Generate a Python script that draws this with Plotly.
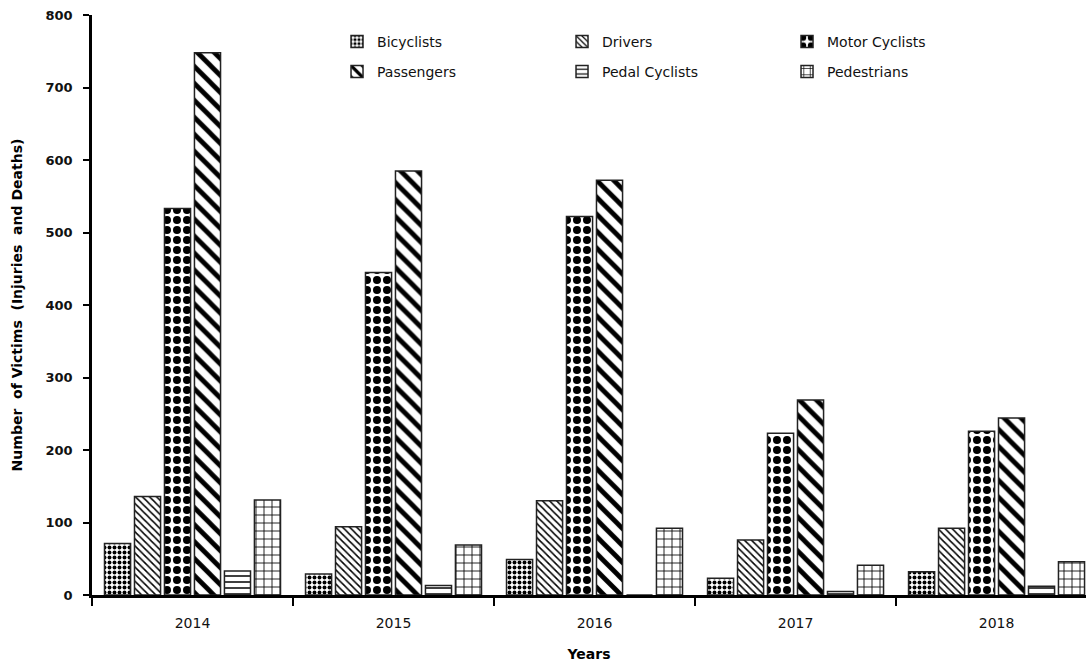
import plotly.graph_objects as go

years = ["2014", "2015", "2016", "2017", "2018"]
bicyclists = [71, 29, 49, 23, 32]
drivers = [136, 94, 130, 76, 92]
motor_cyclists = [533, 445, 522, 223, 226]
passengers = [748, 585, 572, 269, 244]
pedal_cyclists = [33, 13, 0, 5, 12]
pedestrians = [131, 69, 92, 41, 46]

series = [
    ("Bicyclists", bicyclists, dict(shape=".", size=5, solidity=0.5), "legend"),
    ("Drivers", drivers, dict(shape="\\", size=5, solidity=0.3), "legend"),
    ("Motor Cyclists", motor_cyclists, dict(shape=".", size=10, solidity=0.5), "legend"),
    ("Passengers", passengers, dict(shape="\\", size=12, solidity=0.4), "legend2"),
    ("Pedal Cyclists", pedal_cyclists, dict(shape="-", size=6, solidity=0.25), "legend2"),
    ("Pedestrians", pedestrians, dict(shape="+", size=8, solidity=0.2), "legend2"),
]

fig = go.Figure()
for name, vals, pat, lg in series:
    p = dict(pat)
    p.update(fgcolor="black", bgcolor="white", fillmode="replace")
    fig.add_trace(go.Bar(
        x=years, y=vals, name=name, legend=lg,
        marker=dict(color="white", pattern=p, line=dict(color="#222", width=1.5)),
    ))

font = "DejaVu Sans"
legend_common = dict(
    orientation="h", xanchor="left", yanchor="middle",
    font=dict(family=font, size=14, color="#111"),
    bgcolor="rgba(0,0,0,0)", entrywidth=180, entrywidthmode="pixels",
    itemwidth=30, traceorder="normal",
)

fig.update_layout(
    width=1086, height=669,
    margin=dict(l=92, r=0, t=15, b=74),
    paper_bgcolor="white", plot_bgcolor="white",
    barmode="group", bargap=0.105, bargroupgap=0.13,
    font=dict(family=font, size=13, color="black"),
    legend=dict(x=0.2465, y=(595 - 42) / 580, **legend_common),
    legend2=dict(x=0.2465, y=(595 - 72) / 580, **legend_common),
    xaxis=dict(
        type="category", range=[-0.5, 4.445], automargin=False,
        showline=True, linecolor="black", linewidth=3,
        ticks="outside", ticklen=8, tickwidth=2, tickcolor="black",
        tickson="boundaries", showgrid=False, ticklabelstandoff=13,
        tickfont=dict(family=font, size=14, color="#111"),
        title=dict(text="<b>Years</b>", font=dict(family=font, size=14, color="black"), standoff=20),
    ),
    yaxis=dict(
        range=[0, 800], dtick=100, automargin=False,
        showline=True, linecolor="black", linewidth=2.5,
        ticks="outside", ticklen=6, tickwidth=2, tickcolor="black",
        showgrid=False, zeroline=False, ticklabelstandoff=8,
        tickfont=dict(family=font, size=13, color="#111", weight="bold"),
        title=dict(text="<b>Number  of Victims  (Injuries  and Deaths)</b>",
                   font=dict(family=font, size=14, color="black"), standoff=20),
    ),
)

fig.write_html("out.html", config={"displayModeBar": False},
               post_script="document.body.style.margin='0';")
